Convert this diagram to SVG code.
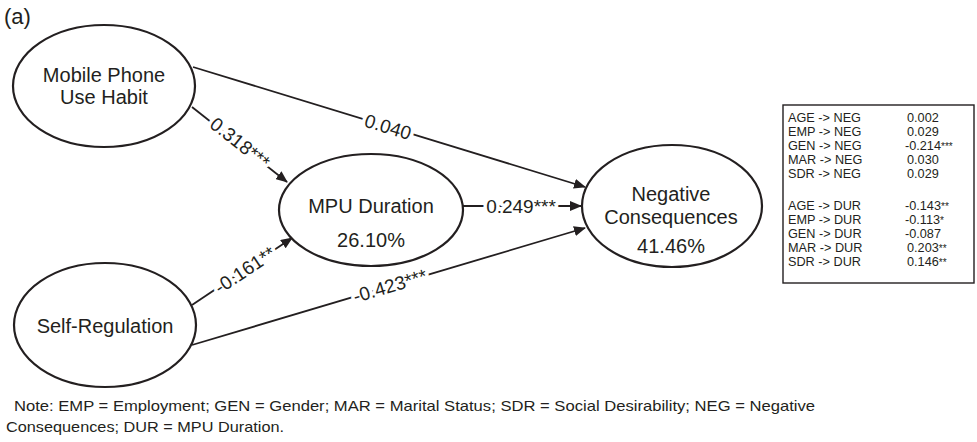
<svg xmlns="http://www.w3.org/2000/svg" width="977" height="442" viewBox="0 0 977 442">
<style>
text{font-family:"Liberation Sans",Arial,sans-serif;fill:#231f20}
.node{fill:#fff;stroke:#231f20;stroke-width:2.2}
.lbl{font-size:20px;text-anchor:middle}
.edge{stroke:#231f20;stroke-width:1.8;fill:none;marker-end:url(#ah)}
.el{font-size:19px;text-anchor:middle;dominant-baseline:central;stroke:#fff;stroke-width:7;paint-order:stroke;stroke-linejoin:round}
.tb{font-size:12.7px}
.st{font-size:10px}
.note{font-size:15px}
</style>
<defs>
<marker id="ah" markerWidth="12" markerHeight="10" refX="11" refY="5" orient="auto" markerUnits="userSpaceOnUse">
<path d="M0,0 L12,5 L0,10 Z" fill="#231f20"/>
</marker>
</defs>
<rect width="977" height="442" fill="#fff"/>
<text x="4" y="24" style="font-size:22px">(a)</text>
<g id="connectors">
<line class="edge" x1="193" y1="67" x2="585" y2="187"/>
<line class="edge" x1="192" y1="107" x2="287" y2="182"/>
<line class="edge" x1="463" y1="206" x2="581" y2="206"/>
<line class="edge" x1="192" y1="305" x2="292" y2="238"/>
<line class="edge" x1="192" y1="345" x2="585" y2="228"/>
<text class="el" transform="translate(388,127) rotate(17)">0.040</text>
<text class="el" transform="translate(240,143) rotate(38.3)">0.318***</text>
<text class="el" transform="translate(521,206)">0.249***</text>
<text class="el" transform="translate(245,270) rotate(-33.8)">-0.161**</text>
<text class="el" transform="translate(390,286) rotate(-16.6)">-0.423***</text>
</g>
<g id="mobile">
<ellipse class="node" cx="104" cy="86" rx="91" ry="61"/>
<text class="lbl" x="104" y="82">Mobile Phone</text>
<text class="lbl" x="104" y="104">Use Habit</text>
</g>
<g id="selfreg">
<ellipse class="node" cx="105" cy="325" rx="91" ry="62"/>
<text class="lbl" x="105" y="333">Self-Regulation</text>
</g>
<g id="mpu">
<ellipse class="node" cx="371" cy="210" rx="92" ry="56"/>
<text class="lbl" x="371" y="213">MPU Duration</text>
<text class="lbl" x="371" y="247">26.10%</text>
</g>
<g id="neg">
<ellipse class="node" cx="672" cy="206" rx="90" ry="61"/>
<text class="lbl" x="671" y="201">Negative</text>
<text class="lbl" x="671" y="224">Consequences</text>
<text class="lbl" x="671" y="253">41.46%</text>
</g>
<g id="table">
<rect x="783" y="105" width="191" height="178" fill="#fff" stroke="#231f20" stroke-width="1.4"/>
<g class="tb">
<text x="788" y="122">AGE -&gt; NEG</text><text x="907" y="122">0.002</text>
<text x="788" y="136">EMP -&gt; NEG</text><text x="907" y="136">0.029</text>
<text x="788" y="150">GEN -&gt; NEG</text><text x="905" y="150">-0.214<tspan class="st">***</tspan></text>
<text x="788" y="164">MAR -&gt; NEG</text><text x="907" y="164">0.030</text>
<text x="788" y="178">SDR -&gt; NEG</text><text x="907" y="178">0.029</text>
<text x="788" y="210">AGE -&gt; DUR</text><text x="905" y="210">-0.143<tspan class="st">**</tspan></text>
<text x="788" y="224">EMP -&gt; DUR</text><text x="905" y="224">-0.113<tspan class="st">*</tspan></text>
<text x="788" y="238">GEN -&gt; DUR</text><text x="905" y="238">-0.087</text>
<text x="788" y="252">MAR -&gt; DUR</text><text x="907" y="252">0.203<tspan class="st">**</tspan></text>
<text x="788" y="266">SDR -&gt; DUR</text><text x="907" y="266">0.146<tspan class="st">**</tspan></text>
</g>
</g>
<text class="note" x="14" y="411" textLength="801" lengthAdjust="spacingAndGlyphs">Note: EMP = Employment; GEN = Gender; MAR = Marital Status; SDR = Social Desirability; NEG = Negative</text>
<text class="note" x="6" y="432" textLength="278" lengthAdjust="spacingAndGlyphs">Consequences; DUR = MPU Duration.</text>
</svg>
